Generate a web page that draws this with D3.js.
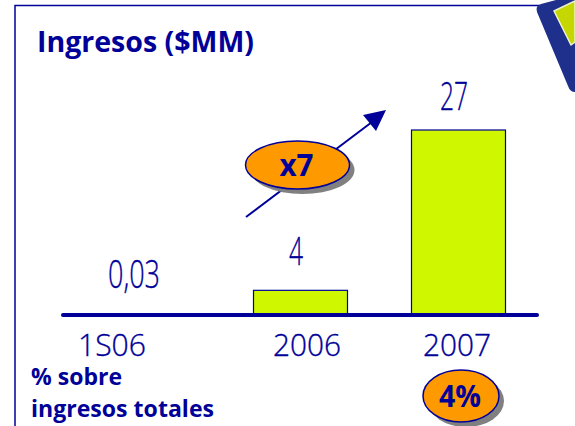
<!DOCTYPE html>
<html><head><meta charset="utf-8">
<script src="https://cdn.jsdelivr.net/npm/d3@7"></script>
<style>html,body{margin:0;padding:0;background:#fff;overflow:hidden}svg{display:block}text{font-family:"Open Sans","Noto Sans",sans-serif}</style>
</head><body><svg id="c" width="575" height="426"></svg>
<script>
const categories = ["1S06","2006","2007"];
const values = [0.03,3.6,27];
const valueLabels = ["0,03","4","27"];
const title = "Ingresos ($MM)";
const noteLines = ["% sobre","ingresos totales"];
const growth = "x7";
const share = "4%";
const navy="#000099", orange="#ff9900", lime="#cef700", grey="#808080";
const svg=d3.select("#c");
const barX=d3.scaleOrdinal().domain(categories).range([112,300,458]);
const catX=d3.scaleOrdinal().domain(categories).range([112,307,457]);
const lblX=d3.scaleOrdinal().domain(categories).range([134,296,454]);
const lblGap=d3.scaleOrdinal().domain(categories).range([27,25,20]);
const lblW=d3.scaleOrdinal().domain(categories).range([52,14,28]);
const y=d3.scaleLinear().domain([0,27]).range([315,130]);
const barW=94;
svg.append("path").attr("d","M15 426V5.5H540").attr("fill","none").attr("stroke",navy).attr("stroke-width",1.5);
svg.append("path").attr("d","M537 12Q535 6 541 4L556 0H575V92Q570 92 568 86Z").attr("fill","#1f2f8c");
svg.append("path").attr("d","M554 11L575 1V42L571 45Z").attr("fill","#c6d600").attr("stroke","#eef2cc").attr("stroke-width",1.5).attr("stroke-linejoin","round");
svg.append("text").attr("x",37).attr("y",52).attr("fill",navy).attr("font-size",29).attr("font-weight",700).attr("textLength",217).attr("lengthAdjust","spacingAndGlyphs").text(title);
const rows=categories.map((c,i)=>({c,v:values[i],l:valueLabels[i]}));
svg.selectAll("rect.bar").data(rows.filter(d=>y(0)-y(d.v)>1)).join("rect").attr("class","bar")
 .attr("x",d=>barX(d.c)-barW/2+.5).attr("width",barW).attr("y",d=>y(d.v)).attr("height",d=>y(0)-y(d.v))
 .attr("fill",lime).attr("stroke",navy).attr("stroke-width",1.2);
svg.append("line").attr("x1",63).attr("x2",537).attr("y1",315).attr("y2",315).attr("stroke",navy).attr("stroke-width",4).attr("stroke-linecap","round");
svg.selectAll("text.val").data(rows).join("text").attr("class","val").attr("x",d=>lblX(d.c)).attr("y",d=>y(d.v)-lblGap(d.c)).attr("text-anchor","middle")
 .attr("fill",navy).attr("stroke",navy).attr("stroke-width",.35).attr("font-size",38).attr("font-weight",300).attr("textLength",d=>lblW(d.c)).attr("lengthAdjust","spacingAndGlyphs").text(d=>d.l);
svg.selectAll("text.cat").data(categories).join("text").attr("class","cat").attr("x",d=>catX(d)).attr("y",356).attr("text-anchor","middle")
 .attr("fill",navy).attr("stroke",navy).attr("stroke-width",.35).attr("font-size",31).attr("font-weight",300).attr("textLength",68).attr("lengthAdjust","spacingAndGlyphs").text(d=>d);
svg.selectAll("text.note").data(noteLines).join("text").attr("class","note").attr("x",31).attr("y",(d,i)=>385+i*32).attr("fill",navy)
 .attr("font-size",23).attr("font-weight",700).attr("textLength",(d,i)=>i?183:91).attr("lengthAdjust","spacingAndGlyphs").text(d=>d);
svg.append("line").attr("x1",246).attr("y1",217).attr("x2",372).attr("y2",122).attr("stroke",navy).attr("stroke-width",2);
svg.append("path").attr("d","M386 110L363 115L376 131Z").attr("fill",navy);
function badge(cxv,cyv,rx,ry,t,fs,tw){
 svg.append("ellipse").attr("cx",cxv+5).attr("cy",cyv+5).attr("rx",rx).attr("ry",ry).attr("fill",grey);
 svg.append("ellipse").attr("cx",cxv).attr("cy",cyv).attr("rx",rx).attr("ry",ry).attr("fill",orange).attr("stroke",navy).attr("stroke-width",1.5);
 svg.append("text").attr("x",cxv-1).attr("y",cyv+fs*0.36).attr("text-anchor","middle").attr("fill",navy).attr("font-size",fs).attr("font-weight",700).attr("textLength",tw).attr("lengthAdjust","spacingAndGlyphs").text(t);
}
badge(297.5,165,52,24,growth,31,34);
badge(461,396,38,26,share,30,42);
</script></body></html>
